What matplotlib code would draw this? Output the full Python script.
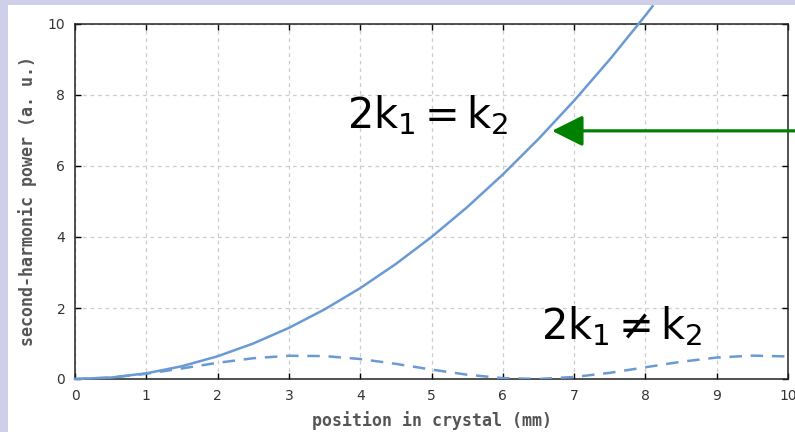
import matplotlib.pyplot as plt
from matplotlib.patches import Rectangle

plt.rcParams['mathtext.fontset'] = 'custom'
plt.rcParams['mathtext.rm'] = 'Liberation Sans'
plt.rcParams['mathtext.it'] = 'Liberation Sans'

# phase matched: power grows quadratically along the crystal
x_matched = [0, 0.5, 1, 1.5, 2, 2.5, 3, 3.5, 4, 4.5, 5, 5.5, 6, 6.5, 7, 7.5, 8, 8.1]
y_matched = [0, 0.04, 0.16, 0.36, 0.64, 1.0, 1.44, 1.96, 2.56, 3.24, 4.0, 4.84,
             5.76, 6.76, 7.84, 9.0, 10.24, 10.5]

# not phase matched: power oscillates
x_mismatch = [0, 0.5, 1, 1.5, 2, 2.5, 3, 3.5, 4, 4.5, 5, 5.5, 6, 6.5, 7, 7.5, 8,
              8.5, 9, 9.5, 10]
y_mismatch = [0, 0.039, 0.147, 0.298, 0.456, 0.585, 0.654, 0.646, 0.563, 0.426,
              0.266, 0.121, 0.025, 0.002, 0.056, 0.174, 0.33, 0.486, 0.604,
              0.658, 0.635]

x_ticks = list(range(0, 11))
y_ticks = [0, 2, 4, 6, 8, 10]

line_color = '#6a9ad4'

fig = plt.figure(figsize=(7.95, 4.32), dpi=100)
fig.patch.set_facecolor('#cfcfe9')
# white panel inside the lavender border
fig.patches.append(Rectangle((8 / 795, 0), 1 - 8 / 795, 427 / 432,
                             transform=fig.transFigure, facecolor='white',
                             edgecolor='none', zorder=-10))

ax = fig.add_axes([75 / 795, 53 / 432, 713 / 795, 355 / 432])
ax.set_facecolor('none')

ax.plot(x_matched, y_matched, color=line_color, lw=1.8, clip_on=False, zorder=3)
ax.plot(x_mismatch, y_mismatch, color=line_color, lw=1.8, dashes=(5, 3.5),
        zorder=3)

ax.set_xlim(0, 10)
ax.set_ylim(0, 10)
ax.set_xticks(x_ticks)
ax.set_yticks(y_ticks)
ax.grid(True, color='#cccccc', linestyle=(0, (3, 3)), lw=0.9)
ax.set_axisbelow(True)

ax.tick_params(direction='in', length=4.5, width=1.0, top=True, right=True,
               labelsize=10, labelcolor='#333333', pad=7)
for sp in ax.spines.values():
    sp.set_color('#222222')
    sp.set_linewidth(1.1)

lab_font = dict(family='DejaVu Sans Mono', fontsize=12, fontweight='bold',
                color='#555555')
ax.set_xlabel('position in crystal (mm)', labelpad=6, **lab_font)
ax.set_ylabel('second-harmonic power (a. u.)', labelpad=8, **lab_font)

ax.text(3.81, 7.07, r'$\mathregular{2k_1 = k_2}$', fontsize=30,
        color='black', va='baseline', ha='left')
ax.text(6.54, 1.12, r'$\mathregular{2k_1 \neq k_2}$', fontsize=30,
        color='black', va='baseline', ha='left')

ax.annotate('', xy=(6.69, 6.99), xycoords='data',
            xytext=(1.0, 6.99), textcoords=('figure fraction', 'data'),
            arrowprops=dict(arrowstyle='-|>,head_length=1.9,head_width=0.95',
                            mutation_scale=10, color='#008000', lw=2.3,
                            shrinkA=0, shrinkB=0),
            annotation_clip=False, zorder=5)

fig.savefig('out.png', dpi=100, facecolor=fig.get_facecolor())
